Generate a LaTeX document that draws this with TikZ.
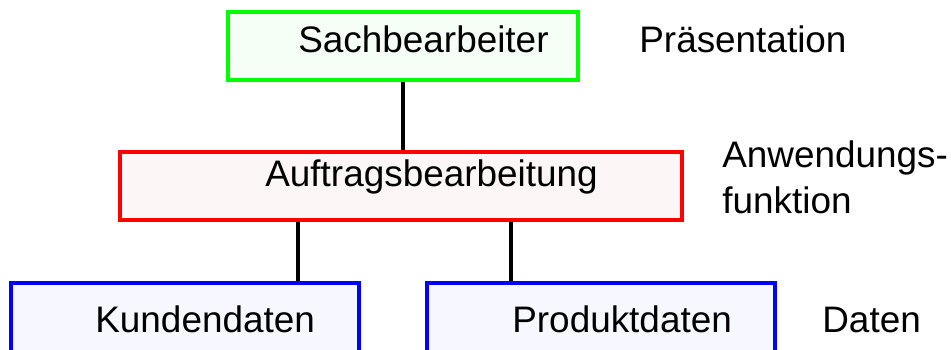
\documentclass[tikz,border=0pt]{standalone}
\usepackage{fontspec}
\setmainfont{Liberation Sans}
\definecolor{praesfill}{RGB}{245,255,245}
\definecolor{anwfill}{RGB}{253,246,246}
\definecolor{datfill}{RGB}{247,247,255}
\tikzset{
  layerbox/.style={draw, rectangle, line width=2.2pt, inner sep=0pt, minimum height=1.36cm},
  lbl/.style={anchor=base west, inner sep=0pt, font=\fontsize{21}{26}\selectfont},
  link/.style={line width=1.9pt}
}
\begin{document}
\begin{tikzpicture}[x=0.02cm, y=-0.02cm]
        \clip (0,0) rectangle (951,349);
        \node[layerbox, draw={rgb,255:red,0;green,255;blue,0}, fill=praesfill, minimum width=7cm] (sach) at (403,46) {};
        \node[layerbox, draw={rgb,255:red,255;green,0;blue,0}, fill=anwfill, minimum width=11.24cm] (auftrag) at (401,186) {};
        \node[layerbox, draw={rgb,255:red,0;green,0;blue,255}, fill=datfill, minimum width=6.96cm, minimum height=2cm] (kunden) at (185,333) {};
        \node[layerbox, draw={rgb,255:red,0;green,0;blue,255}, fill=datfill, minimum width=6.96cm, minimum height=2cm] (produkt) at (601,333) {};
        \node[lbl] (sachtxt) at (298,52) {Sachbearbeiter};
        \node[lbl] (auftragtxt) at (265,186) {Auftragsbearbeitung};
        \node[lbl] (kundentxt) at (95,332) {Kundendaten};
        \node[lbl] (produkttxt) at (512,332) {Produktdaten};
        \node[lbl] (praes) at (639,52) {Präsentation};
        \node[lbl] (anw) at (722,167) {Anwendungs-};
        \node[lbl] (funk) at (722,213) {funktion};
        \node[lbl] (daten) at (822,332) {Daten};
        \coordinate (kx) at (298,0);
        \coordinate (px) at (511,0);
        \draw[link] (sach.south) -- (sach.south |- auftrag.north);
        \draw[link] (auftrag.south -| kx) -- (kunden.north -| kx);
        \draw[link] (auftrag.south -| px) -- (produkt.north -| px);
\end{tikzpicture}
\end{document}
